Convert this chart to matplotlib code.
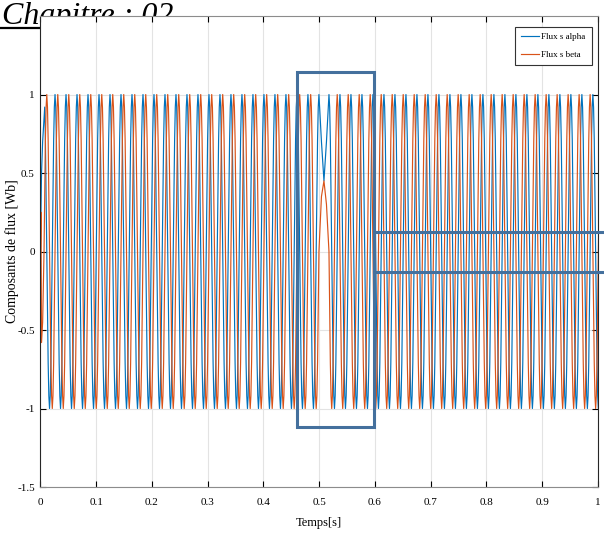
import numpy as np
import matplotlib.pyplot as plt
from matplotlib.lines import Line2D
from matplotlib.patches import Rectangle

plt.rcParams['font.family'] = ['Liberation Serif', 'DejaVu Serif']

# one period of the stator flux, 16 samples starting at the crest
cycle_shape = [1.0, 0.92, 0.71, 0.38, 0.0, -0.38, -0.71, -0.92,
               -1.0, -0.92, -0.71, -0.38, 0.0, 0.38, 0.71, 0.92]
period = 0.01972          # s
n_before = 25             # periods before the speed reversal
n_after = 25              # periods after it

# flux build-up at start
start_t = [0.0, 0.001, 0.002, 0.004, 0.0065]
start_alpha = [0.0, 0.25, 0.5, 0.7, 0.84]
start_beta = [0.0, 0.25, -0.58, -0.45, 0.0]

# reversal of the rotation direction
rev_t = [0.4995, 0.504, 0.5085, 0.513, 0.5175]
rev_alpha = [1.0, 0.7, 0.45, 0.7, 1.0]
rev_beta = [0.0, 0.35, 0.45, 0.3, 0.0]

x_ticks = [0, 0.1, 0.2, 0.3, 0.4, 0.5, 0.6, 0.7, 0.8, 0.9, 1]
x_labels = ['0', '0.1', '0.2', '0.3', '0.4', '0.5', '0.6', '0.7', '0.8', '0.9', '1']
y_ticks = [-1.5, -1, -0.5, 0, 0.5, 1]
y_labels = ['-1.5', '-1', '-0.5', '0', '0.5', '1']


def steady(t0, n, shift):
    shape = np.roll(cycle_shape, shift)
    v = np.tile(shape, n)
    t = t0 + np.arange(v.size) * period / len(cycle_shape)
    return t[1:], v[1:]


ta1, a1 = steady(start_t[-1], n_before, 0)
tb1, b1 = steady(start_t[-1], n_before, 4)
ta2, a2 = steady(rev_t[-1], n_after, 0)
tb2, b2 = steady(rev_t[-1], n_after, -4)

t_alpha = np.concatenate([start_t, ta1, rev_t, ta2])
alpha = np.concatenate([start_alpha, a1, rev_alpha, a2])
t_beta = np.concatenate([start_t, tb1, rev_t, tb2])
beta = np.concatenate([start_beta, b1, rev_beta, b2])

fig = plt.figure(figsize=(6.04, 5.37), dpi=100)
ax = fig.add_axes([0.0669, 0.0931, 0.9232, 0.8771])

# page header sitting behind the plot
fig.text(0.003, 0.956, 'Chapitre : 02', fontsize=23, style='italic',
         ha='left', va='baseline', zorder=-2)
fig.add_artist(Line2D([0, 0.3], [0.948, 0.948], color='black', lw=1.6, zorder=-2))

ax.plot(t_alpha, alpha, color='#0072BD', lw=0.85, label='Flux s alpha')
ax.plot(t_beta, beta, color='#D95319', lw=0.85, label='Flux s beta')

ax.set_xlim(0, 1)
ax.set_ylim(-1.5, 1.5)
ax.set_xticks(x_ticks)
ax.set_xticklabels(x_labels)
ax.set_yticks(y_ticks)
ax.set_yticklabels(y_labels)
ax.tick_params(direction='in', length=4, width=0.8, top=True, right=True,
               labelsize=8, colors='black')
ax.tick_params(axis='x', pad=8)
ax.tick_params(axis='y', pad=4)
ax.grid(True, color='#e3e3e3', lw=0.8)
ax.set_axisbelow(True)
for side in ['left', 'right']:
    ax.spines[side].set_color('#262626')
for side in ['top', 'bottom']:
    ax.spines[side].set_color('#8c8c8c')

ax.set_xlabel('Temps[s]', fontsize=9, labelpad=7)
ax.set_ylabel('Composants de flux [Wb]', fontsize=10, va='center')
ax.yaxis.set_label_coords(-0.051, 0.5)

leg = ax.legend(loc='upper right', bbox_to_anchor=(0.989, 0.977), fontsize=6.5,
                handlelength=1.9, borderpad=0.7, labelspacing=1.0,
                handletextpad=0.3, borderaxespad=0, fancybox=False, framealpha=1)
leg.get_frame().set_edgecolor('#333333')
leg.get_frame().set_linewidth(0.8)

# zoom frame around the reversal
box_col = '#44709d'
ax.add_patch(Rectangle((0.46, -1.12), 0.138, 2.266, fill=False,
                       ec=box_col, lw=2.2, zorder=5))
ax.plot([0.598, 1.03], [0.124, 0.124], color=box_col, lw=2.2, clip_on=False, zorder=5)
ax.plot([0.598, 1.03], [-0.13, -0.13], color=box_col, lw=2.2, clip_on=False, zorder=5)

fig.savefig('out.png', dpi=100)
